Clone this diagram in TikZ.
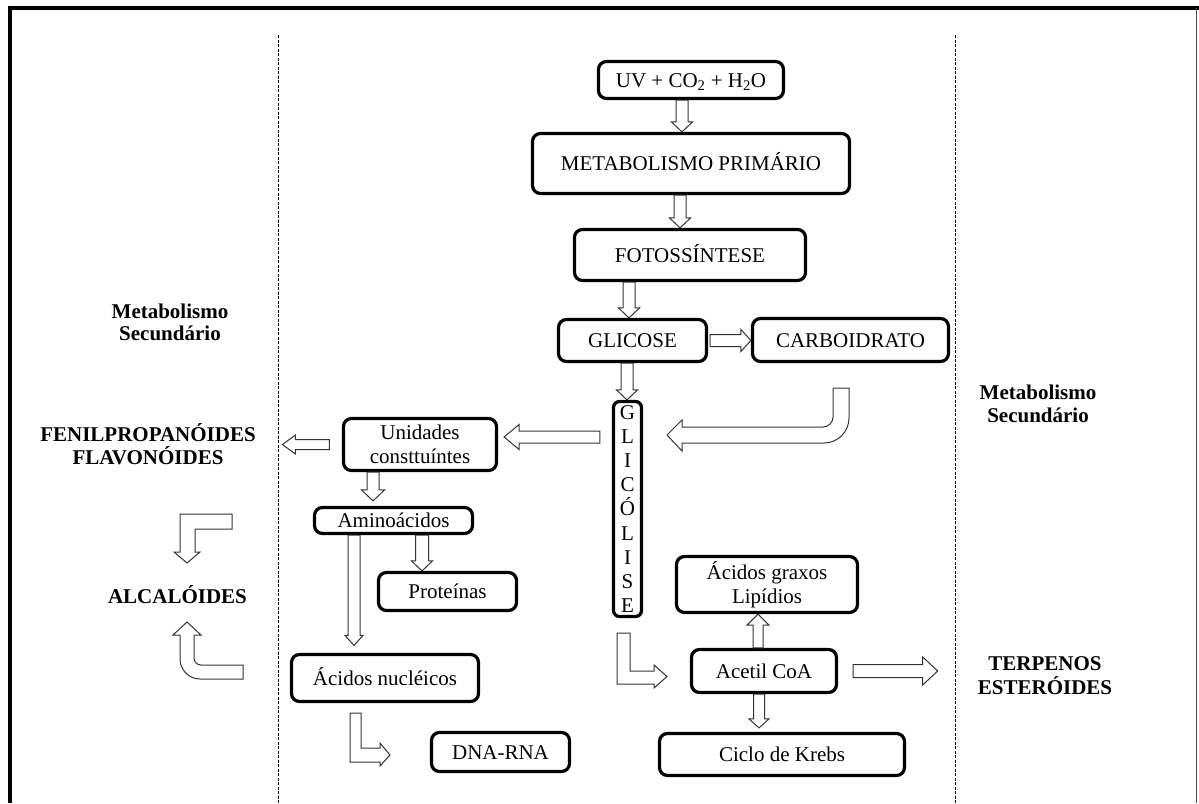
\documentclass[tikz,border=0pt]{standalone}
\usepackage{fontspec}
\setmainfont{Liberation Serif}
\usetikzlibrary{calc}
\newcommand\fs{\fontsize{21}{24}\selectfont}
\newcommand\barrow[5]{%
  \draw[blockarrow] let \p1=#1, \p2=#2, \p3=($(\p2)!#5!(\p1)$) in
    ($(\p1)!#3!90:(\p2)$) -- ($(\p3)!#3!90:(\p2)$) -- ($(\p3)!#4!90:(\p2)$) -- (\p2)
    -- ($(\p3)!#4!-90:(\p2)$) -- ($(\p3)!#3!-90:(\p2)$) -- ($(\p1)!#3!-90:(\p2)$) -- cycle;}
\tikzset{
  box/.style={draw, line width=3.2pt, rounded corners=8pt, inner sep=0pt, align=center, font=\fs, fill=white},
  onel/.style={text height=14pt, text depth=0pt},
  lbl/.style={inner sep=0pt, align=center, font=\fontsize{21}{23}\selectfont\bfseries},
  blockarrow/.style={draw=black!80, line width=1pt, fill=white, line join=miter},
  sep/.style={dash pattern=on 3pt off 1.5pt, line width=0.8pt}
}
\begin{document}
\begin{tikzpicture}[x=1pt, y=-1pt]
\useasboundingbox (0,0) rectangle (1199,803);
\fill[white] (0,0) rectangle (1199,803);
% frame
\draw[line width=4.4pt, line join=miter] (10.1,803) -- (10.1,7.9) -- (1199,7.9);
\draw[line width=1.2pt, black!70] (1196.5,8) -- (1196.5,803);
% separators
\draw[sep] (278,35) -- (278,803);
\draw[sep] (955,35) -- (955,803);

% boxes
\node[box, onel, minimum width=185pt, minimum height=37pt] (uv) at (691,80) {UV + CO\textsubscript{2} + H\textsubscript{2}O};
\node[box, onel, minimum width=317pt, minimum height=60pt] (met) at (691,163.5) {METABOLISMO PRIMÁRIO};
\node[box, onel, minimum width=231pt, minimum height=51pt] (foto) at (690,255) {FOTOSSÍNTESE};
\node[box, onel, minimum width=148pt, minimum height=42pt] (gli) at (632.5,340.5) {GLICOSE};
\node[box, onel, minimum width=196pt, minimum height=43pt] (carb) at (850.5,340) {CARBOIDRATO};
\node[box, rounded corners=6pt, minimum width=28pt, minimum height=215pt, font=\fontsize{21}{24.1}\selectfont] (glic) at (627.5,509) {G\\L\\I\\C\\Ó\\L\\I\\S\\E};
\node[box, minimum width=153pt, minimum height=52pt] (uni) at (420,444.5) {Unidades\\consttuíntes};
\node[box, onel, minimum width=158pt, minimum height=26pt] (amino) at (393.5,520.5) {Aminoácidos};
\node[box, onel, minimum width=138pt, minimum height=38pt] (prot) at (447.5,591.5) {Proteínas};
\node[box, onel, minimum width=187pt, minimum height=47pt] (acn) at (385,678) {Ácidos nucléicos};
\node[box, onel, minimum width=138pt, minimum height=39pt] (dna) at (500.5,752) {DNA-RNA};
\node[box, minimum width=181pt, minimum height=56pt] (agr) at (767,584.5) {Ácidos graxos\\Lipídios};
\node[box, onel, minimum width=145pt, minimum height=43pt] (acet) at (764,671) {Acetil CoA};
\node[box, onel, minimum width=245pt, minimum height=42pt] (krebs) at (782,754.5) {Ciclo de Krebs};

% labels
\node[lbl, font=\fontsize{21}{22}\selectfont\bfseries] (ms1) at (170,322) {Metabolismo\\Secundário};
\node[lbl] (fen) at (148,444) {FENILPROPANÓIDES\\FLAVONÓIDES};
\node[lbl] (alc) at (177.5,594.5) {ALCALÓIDES};
\node[lbl] (ms2) at (1038,403.5) {Metabolismo\\Secundário};
\node[lbl, font=\fontsize{21}{24}\selectfont\bfseries] (ter) at (1045,676) {TERPENOS\\ESTERÓIDES};

% straight block arrows
\coordinate (s1) at ([xshift=-9pt]uv.south);
\barrow{(s1)}{(s1 |- met.north)}{6pt}{10.5pt}{10pt}
\coordinate (s2) at ([xshift=-11pt]met.south);
\barrow{(s2)}{(s2 |- foto.north)}{6pt}{10.5pt}{10pt}
\coordinate (s3) at ([xshift=-61pt]foto.south);
\barrow{(s3)}{(s3 |- gli.north)}{6pt}{10.5pt}{10pt}
\coordinate (s4) at ([xshift=2pt]gli.east);
\barrow{(s4)}{(s4 -| carb.west)}{6pt}{11pt}{10pt}
\coordinate (s5) at ([xshift=-5.5pt]gli.south);
\barrow{(s5)}{(s5 |- glic.north)}{6pt}{10.5pt}{10pt}
\coordinate (s6) at ([xshift=-12pt,yshift=72pt]glic.west);
\path (s6 -| uni.east) ++(6,0) coordinate (e6);
\barrow{(s6)}{(e6)}{6pt}{12.5pt}{15pt}
\coordinate (s7) at ([xshift=-12.5pt]uni.west);
\path (s7 -| fen.east) ++(26.5,0) coordinate (e7);
\barrow{(s7)}{(e7)}{5pt}{9.5pt}{13pt}
\coordinate (s8) at ([xshift=-47pt]uni.south);
\path (s8 |- amino.north) ++(0,-5) coordinate (e8);
\barrow{(s8)}{(e8)}{6pt}{11.5pt}{11pt}
\coordinate (s9) at ([xshift=28.5pt]amino.south);
\barrow{(s9)}{(s9 |- prot.north)}{6.5pt}{10.5pt}{10pt}
\coordinate (s10) at ([xshift=-39.5pt]amino.south);
\path (s10 |- acn.north) ++(0,-7.5) coordinate (e10);
\barrow{(s10)}{(e10)}{6pt}{9pt}{10pt}
\coordinate (s11) at ([xshift=-6pt]acet.north);
\barrow{(s11)}{(s11 |- agr.south)}{5pt}{11pt}{11pt}
\coordinate (s12) at ([xshift=-5pt]acet.south);
\path (s12 |- krebs.north) ++(0,-4) coordinate (e12);
\barrow{(s12)}{(e12)}{5.5pt}{10pt}{9pt}
\coordinate (s13) at ([xshift=15pt]acet.east);
\path (s13 -| ter.west) ++(-40,0) coordinate (e13);
\barrow{(s13)}{(e13)}{6.5pt}{14pt}{15pt}

% bent arrows
\draw[blockarrow] (833,388) -- (849,388) -- (849,418) .. controls (849,431.8) and (837.8,443) .. (824,443)
  -- (682,443) -- (682,451) -- (667,435) -- (682,420) -- (682,427) -- (823,427)
  .. controls (828.5,427) and (833,422.5) .. (833,417) -- cycle;
\draw[blockarrow] (617,633) -- (617,684) -- (654,684) -- (654,688) -- (667,676.5) -- (654,665) -- (654,671) -- (630,671) -- (630,633) -- cycle;
\draw[blockarrow] (350,713) -- (350,762) -- (380,762) -- (380,766) -- (390,755) -- (380,743) -- (380,748) -- (361,748) -- (361,713) -- cycle;
\draw[blockarrow] (232,514) -- (180,514) -- (180,552) -- (174,552) -- (187,563) -- (200,552) -- (195,552) -- (195,529) -- (232,529) -- cycle;
\draw[blockarrow] (243,679) -- (200,679) .. controls (189,679) and (180,670) .. (180,659) -- (180,635) -- (173,635)
  -- (187,622) -- (201,635) -- (194,635) -- (194,658) .. controls (194,661.9) and (197.1,665) .. (201,665) -- (243,665) -- cycle;
\end{tikzpicture}
\end{document}
